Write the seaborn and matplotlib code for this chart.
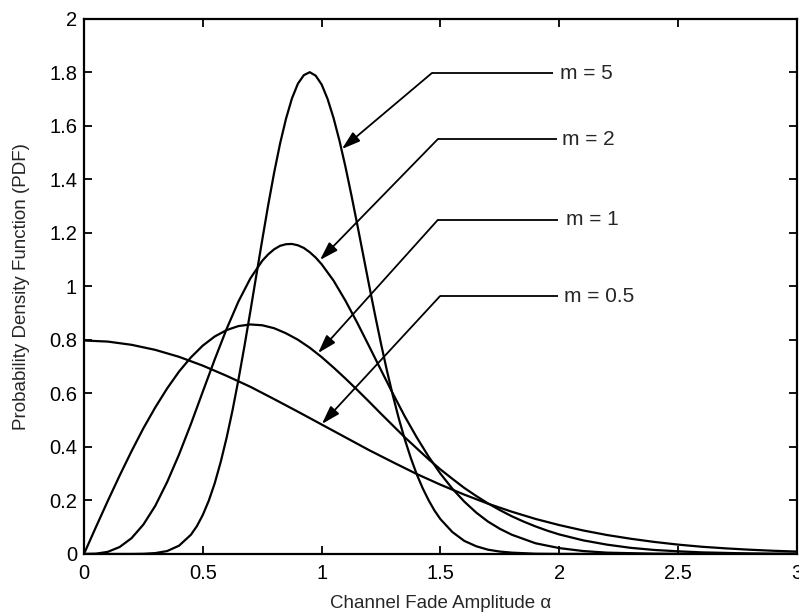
import numpy as np
import pandas as pd
import matplotlib
matplotlib.use("Agg")
import matplotlib.pyplot as plt
import seaborn as sns

# ---- data (Nakagami-m PDFs) ----
x_m05 = [0.0, 0.1, 0.2, 0.3, 0.4, 0.5, 0.6, 0.7, 0.8, 0.9, 1.0, 1.1, 1.2, 1.3, 1.4, 1.5,
         1.6, 1.7, 1.8, 1.9, 2.0, 2.1, 2.2, 2.3, 2.4, 2.5, 2.6, 2.7, 2.8, 2.9, 3.0]
y_m05 = [0.798, 0.794, 0.782, 0.763, 0.737, 0.704, 0.666, 0.625, 0.579, 0.532, 0.484,
         0.436, 0.388, 0.343, 0.299, 0.259, 0.222, 0.188, 0.158, 0.131, 0.108, 0.088,
         0.071, 0.057, 0.045, 0.035, 0.027, 0.021, 0.016, 0.012, 0.009]

x_m1 = [0.0, 0.05, 0.1, 0.15, 0.2, 0.25, 0.3, 0.35, 0.4, 0.45, 0.5, 0.55, 0.6, 0.65,
        0.7, 0.75, 0.8, 0.85, 0.9, 0.95, 1.0, 1.05, 1.1, 1.15, 1.2, 1.25, 1.3, 1.35,
        1.4, 1.45, 1.5, 1.55, 1.6, 1.65, 1.7, 1.75, 1.8, 1.85, 1.9, 1.95, 2.0, 2.1,
        2.2, 2.3, 2.4, 2.5, 2.6, 2.7, 2.8, 2.9, 3.0]
y_m1 = [0.0, 0.100, 0.198, 0.293, 0.384, 0.470, 0.548, 0.619, 0.682, 0.735, 0.779,
        0.813, 0.837, 0.852, 0.858, 0.855, 0.844, 0.825, 0.801, 0.771, 0.736, 0.697,
        0.656, 0.613, 0.569, 0.524, 0.480, 0.436, 0.395, 0.354, 0.316, 0.281, 0.247,
        0.217, 0.189, 0.164, 0.141, 0.121, 0.103, 0.087, 0.073, 0.051, 0.035, 0.023,
        0.015, 0.010, 0.006, 0.004, 0.002, 0.001, 0.001]

x_m2 = [0.0, 0.05, 0.1, 0.15, 0.2, 0.25, 0.3, 0.35, 0.4, 0.45, 0.5, 0.55, 0.6, 0.65,
        0.7, 0.75, 0.775, 0.8, 0.825, 0.85, 0.875, 0.9, 0.925, 0.95, 0.975, 1.0, 1.05,
        1.1, 1.15, 1.2, 1.25, 1.3, 1.35, 1.4, 1.45, 1.5, 1.55, 1.6, 1.65, 1.7, 1.75,
        1.8, 1.9, 2.0, 2.1, 2.2, 2.3, 2.4, 2.5, 2.7, 3.0]
y_m2 = [0.0, 0.001, 0.008, 0.026, 0.059, 0.110, 0.180, 0.269, 0.372, 0.486, 0.607,
        0.727, 0.841, 0.944, 1.030, 1.096, 1.120, 1.139, 1.152, 1.158, 1.159, 1.154,
        1.144, 1.128, 1.108, 1.083, 1.022, 0.947, 0.864, 0.776, 0.687, 0.599, 0.514,
        0.436, 0.364, 0.300, 0.244, 0.196, 0.155, 0.121, 0.094, 0.072, 0.040, 0.022,
        0.011, 0.005, 0.003, 0.001, 0.0005, 0.0, 0.0]

x_m5 = [0.0, 0.1, 0.2, 0.25, 0.3, 0.35, 0.4, 0.45, 0.475, 0.5, 0.525, 0.55, 0.575,
        0.6, 0.625, 0.65, 0.675, 0.7, 0.725, 0.75, 0.775, 0.8, 0.825, 0.85, 0.875,
        0.9, 0.925, 0.95, 0.975, 1.0, 1.025, 1.05, 1.075, 1.1, 1.125, 1.15, 1.175,
        1.2, 1.225, 1.25, 1.275, 1.3, 1.325, 1.35, 1.375, 1.4, 1.425, 1.45, 1.475,
        1.5, 1.55, 1.6, 1.65, 1.7, 1.75, 1.8, 1.9, 2.0, 2.5, 3.0]
y_m5 = [0.0, 0.0, 0.0001, 0.0007, 0.0033, 0.011, 0.031, 0.072, 0.104, 0.146, 0.199,
        0.264, 0.343, 0.434, 0.537, 0.652, 0.776, 0.907, 1.041, 1.174, 1.304, 1.425,
        1.534, 1.627, 1.703, 1.758, 1.790, 1.801, 1.788, 1.755, 1.701, 1.630, 1.545,
        1.448, 1.342, 1.231, 1.117, 1.003, 0.892, 0.785, 0.684, 0.591, 0.505, 0.428,
        0.359, 0.298, 0.246, 0.201, 0.162, 0.130, 0.082, 0.049, 0.029, 0.016, 0.009,
        0.005, 0.001, 0.0003, 0.0, 0.0]

series_names = ["m = 0.5", "m = 1", "m = 2", "m = 5"]

# annotation geometry (tip on curve, elbow, end of horizontal leader)
ann_labels = ["m = 5", "m = 2", "m = 1", "m = 0.5"]
ann_tip_x = [1.085, 0.993, 0.985, 1.001]
ann_tip_y = [1.514, 1.099, 0.751, 0.486]
ann_elbow_x = [1.464, 1.489, 1.489, 1.498]
ann_elbow_y = [1.798, 1.551, 1.249, 0.964]
ann_end_x = [1.973, 1.990, 1.994, 1.994]
ann_text_x = [2.003, 2.012, 2.030, 2.018]

xticks = [0, 0.5, 1, 1.5, 2, 2.5, 3]
xticklabels = ["0", "0.5", "1", "1.5", "2", "2.5", "3"]
yticks = [0, 0.2, 0.4, 0.6, 0.8, 1.0, 1.2, 1.4, 1.6, 1.8, 2.0]
yticklabels = ["0", "0.2", "0.4", "0.6", "0.8", "1", "1.2", "1.4", "1.6", "1.8", "2"]

frames = []
for name, xs, ys in zip(series_names, [x_m05, x_m1, x_m2, x_m5], [y_m05, y_m1, y_m2, y_m5]):
    frames.append(pd.DataFrame({"x": xs, "y": ys, "series": name}))
df = pd.concat(frames, ignore_index=True)

sns.set_style("ticks")
plt.rcParams["font.family"] = ["Liberation Sans", "DejaVu Sans"]

fig = plt.figure(figsize=(7.99, 6.12), dpi=100)
ax = fig.add_axes([0.1051, 0.0948, 0.8924, 0.8742])

sns.lineplot(data=df, x="x", y="y", hue="series", palette=["black"] * 4,
             linewidth=1.6, legend=False, ax=ax, sort=False, estimator=None)

for i, lab in enumerate(ann_labels):
    ax.plot([ann_elbow_x[i], ann_end_x[i]], [ann_elbow_y[i], ann_elbow_y[i]],
            color="black", lw=1.3, solid_capstyle="butt")
    ax.annotate("", xy=(ann_tip_x[i], ann_tip_y[i]),
                xytext=(ann_elbow_x[i], ann_elbow_y[i]),
                arrowprops=dict(arrowstyle="-|>,head_length=0.7,head_width=0.22",
                                color="black", lw=1.3, shrinkA=0, shrinkB=0,
                                mutation_scale=16))
    ax.text(ann_text_x[i], ann_elbow_y[i], lab, fontsize=15, va="center", ha="left")

ax.set_xlim(0, 3)
ax.set_ylim(0, 2)
ax.set_xticks(xticks)
ax.set_xticklabels(xticklabels)
ax.set_yticks(yticks)
ax.set_yticklabels(yticklabels)
ax.tick_params(direction="in", length=6, width=1.3, top=True, right=True,
               labelsize=14.5, colors="black")
ax.tick_params(axis="x", pad=7)
ax.tick_params(axis="y", pad=5)
for s in ax.spines.values():
    s.set_visible(True)
    s.set_linewidth(1.6)
    s.set_color("black")

ax.set_xlabel("Channel Fade Amplitude α", fontsize=13.5, labelpad=9)
ax.set_ylabel("Probability Density Function (PDF)", fontsize=13.5, labelpad=14)

fig.savefig("out.png", dpi=100)
